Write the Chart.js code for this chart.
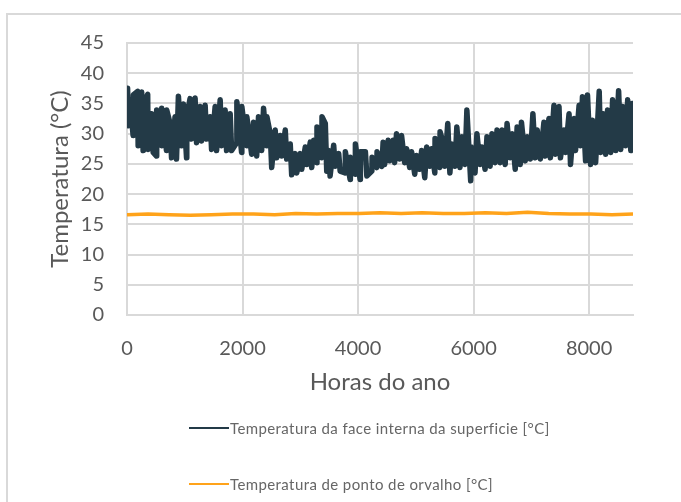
<!DOCTYPE html>
<html><head><meta charset="utf-8">
<script src="https://cdn.jsdelivr.net/npm/chart.js@4/dist/chart.umd.min.js"></script>
<style>
html,body{margin:0;padding:0;background:#fff;}
#wrap{position:relative;width:681px;height:502px;overflow:hidden;background:#fff;}
#frame{position:absolute;left:6px;top:13px;width:720px;height:540px;border-left:2px solid #d9d9d9;border-top:2px solid #d9d9d9;}
#c{position:absolute;left:0;top:0;}
.leg{position:absolute;left:189px;font:15px Lato;letter-spacing:0.4px;color:#666;display:flex;align-items:center;white-space:nowrap;}
.leg .l{display:inline-block;width:40px;height:2px;margin-right:1px;}
</style></head>
<body><div id="wrap"><div id="frame"></div><canvas id="c" width="681" height="502"></canvas>
<div class="leg" id="leg1" style="top:419px"><span class="l" style="background:#233a47"></span><span id="t1"></span></div>
<div class="leg" id="leg2" style="top:475px"><span class="l" style="background:#ffa31a"></span><span id="t2"></span></div>
</div>
<script>
const seriesNames = ["Temperatura da face interna da superficie [°C]", "Temperatura de ponto de orvalho [°C]"];
const axisTitles = {x: "Horas do ano", y: "Temperatura (°C)"};
const xTickValues = [0, 2000, 4000, 6000, 8000];
const yTickValues = [0, 5, 10, 15, 20, 25, 30, 35, 40, 45];

const surfaceHours = [10,25,52,106,110,185,193,254,279,283,358,366,428,453,511,514,597,601,684,688,746,771,832,857,890,944,977,1031,1035,1092,1117,1179,1204,1266,1291,1353,1378,1439,1464,1526,1551,1613,1638,1699,1724,1786,1811,1898,1902,1984,1988,2071,2075,2158,2191,2245,2277,2331,2364,2418,2422,2480,2505,2566,2591,2653,2678,2740,2765,2826,2851,2913,2938,3000,3025,3087,3112,3173,3198,3231,3285,3289,3372,3376,3433,3458,3491,3516,3578,3603,3665,3690,3776,3780,3863,3867,3950,3954,4036,4040,4127,4152,4239,4243,4325,4329,4412,
4434,4459,4521,4546,4608,4633,4666,4720,4753,4807,4840,4894,4927,4981,5014,5068,5101,5155,5188,5242,5275,5329,5333,5416,5420,5478,5503,5553,5590,5623,5677,5710,5764,5797,5851,5884,5950,5959,6025,6058,6112,6145,6199,6232,6286,6319,6373,6406,6460,6493,6547,6580,6634,6667,6721,6754,6808,6829,6895,6928,6982,7027,7069,7102,7156,7218,7243,7305,7330,7392,7417,7479,7504,7566,7591,7653,7678,7740,7765,7827,7852,7885,7939,7972,8026,8059,8113,8175,8200,8245,8287,8320,8374,8407,8461,8511,8548,8581,8635,8668,8722,8745,8760];
const surfaceTemp = [37.5,31.3,35.6,29.7,36.4,37.0,28.0,36.9,27.2,34.9,36.5,27.4,33.3,26.9,26.3,33.9,28.0,34.2,27.2,33.9,31.7,26.0,32.8,25.8,36.2,28.0,34.9,26.0,32.8,35.8,29.1,35.9,28.5,34.5,28.8,34.7,29.1,32.8,27.4,34.5,27.2,35.6,28.0,33.9,27.2,33.3,27.2,28.5,35.3,26.9,34.5,28.0,32.8,26.6,31.9,26.3,32.8,27.2,34.2,28.0,32.8,30.0,24.4,30.6,26.0,29.7,26.3,30.6,25.8,28.3,23.2,26.7,23.5,26.7,24.1,27.8,24.9,28.6,24.4,28.9,25.2,31.1,26.0,32.8,31.7,23.8,27.2,23.0,28.1,24.6,26.7,23.8,23.5,27.0,22.4,26.1,23.3,28.3,22.4,27.0,27.0,23.0,23.8,26.1,24.4,27.0,24.6,
28.6,24.9,28.9,25.5,28.9,25.2,30.0,25.8,29.7,25.2,27.5,24.4,27.0,23.3,26.4,24.1,27.2,22.7,27.8,24.6,27.5,23.5,29.2,24.4,30.3,28.3,24.6,31.7,23.5,28.3,24.6,31.1,24.4,29.5,24.9,33.9,22.2,27.8,23.5,30.0,24.9,27.8,24.1,29.5,24.6,30.0,25.2,30.6,25.2,30.6,24.9,31.7,26.0,30.0,24.1,31.1,24.9,31.9,25.5,29.5,25.8,33.3,26.0,30.6,25.8,31.9,26.3,32.5,26.0,34.7,26.6,34.5,26.0,30.6,26.9,33.3,24.9,32.5,27.2,34.7,28.0,36.1,25.5,36.4,24.9,32.2,25.2,37.0,26.9,33.3,26.6,33.9,26.9,35.6,27.2,37.1,27.4,34.5,28.0,35.6,27.2,35.0,27.7];

const dewHours = [0,365,730,1095,1460,1825,2190,2555,2920,3285,3650,4015,4380,4745,5110,5475,5840,6205,6570,6935,7300,7665,8030,8395,8760];
const dewTemp = [16.6,16.7,16.6,16.5,16.6,16.7,16.7,16.6,16.8,16.7,16.8,16.8,16.9,16.8,16.9,16.8,16.8,16.9,16.8,17.0,16.8,16.7,16.7,16.6,16.7];

const xRange = {min: 0, max: 8760};
const yRange = {min: 0, max: 45};

document.getElementById('t1').textContent = seriesNames[0];
document.getElementById('t2').textContent = seriesNames[1];

const gridColor = '#d9d9d9';
const textColor = '#595959';

new Chart(document.getElementById('c'), {
  type: 'scatter',
  data: {
    datasets: [
      {label: seriesNames[0], data: surfaceHours.map((h,i)=>({x:h,y:surfaceTemp[i]})), showLine: true, borderColor: '#233a47', backgroundColor: '#233a47', borderWidth: 5.5, borderJoinStyle: 'round', borderCapStyle: 'round', pointRadius: 0, tension: 0, order: 1},
      {label: seriesNames[1], data: dewHours.map((h,i)=>({x:h,y:dewTemp[i]})), showLine: true, borderColor: '#ffa31a', backgroundColor: '#ffa31a', borderWidth: 3.5, borderJoinStyle: 'round', pointRadius: 0, tension: 0, order: 2}
    ]
  },
  options: {
    responsive: false, animation: false, devicePixelRatio: 1,
    layout: {padding: {top: 43, right: 48, left: 0, bottom: 105}},
    plugins: {legend: {display: false}, tooltip: {enabled: false}},
    scales: {
      x: {
        type: 'linear', min: xRange.min, max: xRange.max,
        afterFit: s => { s.height = 82; },
        afterBuildTicks: s => { s.ticks = xTickValues.map(v => ({value: v})); },
        grid: {color: gridColor, lineWidth: 2, drawTicks: false},
        border: {display: true, color: gridColor, width: 2},
        ticks: {padding: 22, color: textColor, font: {family: 'Lato', size: 20}, maxRotation: 0, autoSkip: false, callback: v => String(v)},
        title: {display: true, text: axisTitles.x, color: textColor, font: {family: 'Lato', size: 24}, padding: 0}
      },
      y: {
        min: yRange.min, max: yRange.max,
        afterFit: s => { s.width = 127; },
        afterBuildTicks: s => { s.ticks = yTickValues.map(v => ({value: v})); },
        grid: {color: gridColor, lineWidth: 2, drawTicks: false},
        border: {display: true, color: gridColor, width: 2},
        ticks: {padding: 23, color: textColor, font: {family: 'Lato', size: 20}, autoSkip: false, callback: v => String(v)},
        title: {display: true, text: axisTitles.y, color: textColor, font: {family: 'Lato', size: 24}, padding: {top: 46, bottom: 0}}
      }
    }
  }
});
</script></body></html>
